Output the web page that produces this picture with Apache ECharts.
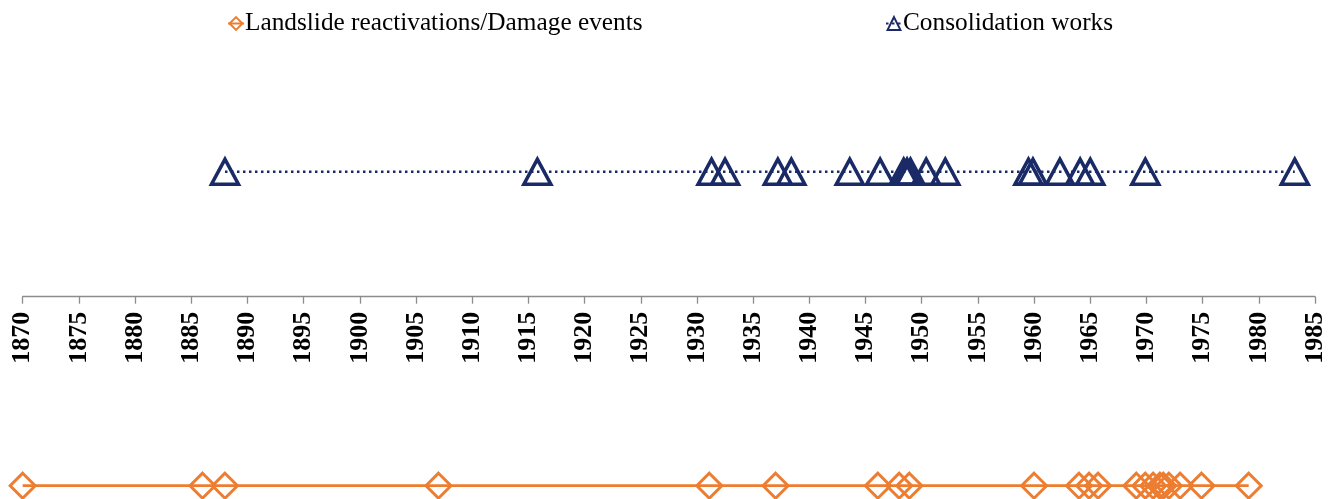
<!DOCTYPE html>
<html>
<head>
<meta charset="utf-8">
<script src="https://cdn.jsdelivr.net/npm/echarts@6/dist/echarts.min.js"></script>
<style>
html,body{margin:0;padding:0;background:#fff;}
#chart{width:1333px;height:499px;}
</style>
</head>
<body>
<div id="chart"></div>
<script>
// Years of landslide reactivations / damage events
const eventYears = [1870, 1886.0, 1888.0, 1907.0, 1931.1, 1937.0, 1946.1, 1948.0, 1948.9,
  1960.0, 1964.0, 1964.9, 1965.7, 1969.1, 1969.9, 1970.6, 1971.2, 1971.5, 1972.0, 1973.0, 1974.9, 1979.1];
// Years of consolidation works
const worksYears = [1888.0, 1915.8, 1931.3, 1932.5, 1937.2, 1938.4, 1943.6, 1946.3, 1948.4, 1948.7,
  1949.0, 1950.4, 1952.1, 1959.5, 1959.9, 1962.3, 1964.1, 1965.0, 1969.9, 1983.2];
const xMin = 1870, xMax = 1985, xStep = 5;
const seriesNames = ['Landslide reactivations/Damage events', 'Consolidation works'];
const eventsLane = -1, worksLane = 1;

const ORANGE = '#ED7D31', NAVY = '#1A2A66';
const chart = echarts.init(document.getElementById('chart'));
chart.setOption({
  animation: false,
  backgroundColor: '#fff',
  textStyle: { fontFamily: 'Liberation Serif' },
  legend: [
    { left: 222, top: 6, data: [seriesNames[0]], itemWidth: 16, itemHeight: 16, itemGap: 0,
      textStyle: { fontFamily: 'Liberation Serif', fontSize: 25.3, color: '#000', padding: [0,0,0,-4] } },
    { left: 880, top: 6, data: [seriesNames[1]], itemWidth: 16, itemHeight: 16, itemGap: 0,
      textStyle: { fontFamily: 'Liberation Serif', fontSize: 25.3, color: '#000', padding: [0,0,0,-4] } }
  ],
  grid: { left: 22.7, right: 18, top: 171.7, bottom: 13.3, containLabel: false },
  xAxis: {
    type: 'value', min: xMin, max: xMax, interval: xStep,
    position: 'bottom', offset: -189,
    axisLine: { onZero: false, lineStyle: { color: '#8c8c8c', width: 1.3 } },
    axisTick: { show: true, length: 7, lineStyle: { color: '#8c8c8c', width: 1.3 } },
    splitLine: { show: false },
    axisLabel: { rotate: 90, margin: 15, fontFamily: 'Liberation Serif', fontWeight: 'bold',
      fontSize: 26, color: '#000', formatter: v => String(v) }
  },
  yAxis: { type: 'value', min: -1, max: 1, show: false },
  series: [
    {
      name: seriesNames[0], type: 'line', clip: false,
      data: eventYears.map(y => [y, eventsLane]),
      symbol: 'diamond', symbolSize: [25, 25], showAllSymbol: true,
      lineStyle: { color: ORANGE, width: 2.8 },
      itemStyle: { color: 'rgba(255,255,255,0)', borderColor: ORANGE, borderWidth: 3 },
      emphasis: { disabled: true }, z: 3
    },
    {
      name: seriesNames[1], type: 'line', clip: false,
      data: worksYears.map(y => [y, worksLane]),
      symbol: 'triangle', symbolSize: [27, 25], showAllSymbol: true,
      lineStyle: { color: NAVY, width: 2.5, type: [2.5, 3.5] },
      itemStyle: { color: 'rgba(255,255,255,0)', borderColor: NAVY, borderWidth: 3.5 },
      emphasis: { disabled: true }, z: 3
    }
  ]
});
</script>
</body>
</html>
